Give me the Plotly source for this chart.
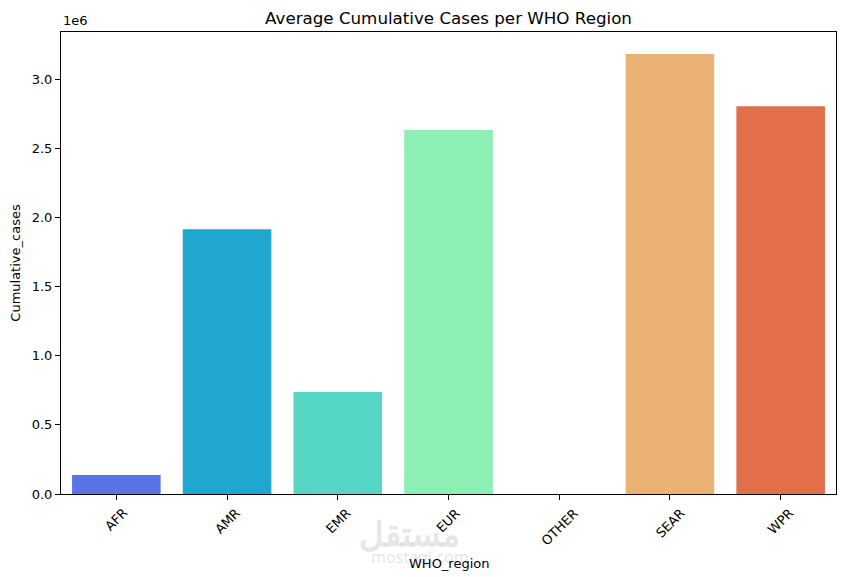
import plotly.graph_objects as go

regions = ["AFR", "AMR", "EMR", "EUR", "OTHER", "SEAR", "WPR"]
avg_cases = [137000, 1915000, 738000, 2634000, 0, 3184000, 2806000]
bar_colors = ["#5A73E5", "#20A7CF", "#55D6C5", "#8EEFB5", "#C6DCA6", "#EBB275", "#E26E4A"]
y_ticks = [0, 500000, 1000000, 1500000, 2000000, 2500000, 3000000]
y_tick_text = ["0.0", "0.5", "1.0", "1.5", "2.0", "2.5", "3.0"]

font_family = "DejaVu Sans"
PLOT_H = 577 - 32 - 83

fig = go.Figure()
fig.add_trace(go.Bar(
    x=list(range(len(regions))),
    y=avg_cases,
    width=0.8,
    marker=dict(color=bar_colors, line=dict(width=0)),
    hoverinfo="skip",
))

ymax = max(avg_cases) * 1.05

fig.update_layout(
    width=846, height=577,
    margin=dict(l=61, r=10, t=32, b=83),
    paper_bgcolor="white", plot_bgcolor="white",
    showlegend=False,
    font=dict(family=font_family, size=13, color="black"),
    title=dict(text="Average Cumulative Cases per WHO Region",
               x=(61 + 836) / 2 / 846, xanchor="center",
               y=1 - 18 / 577, yanchor="middle",
               font=dict(size=16.7, color="black", family=font_family)),
    xaxis=dict(
        range=[-0.5, len(regions) - 0.5],
        tickmode="array", tickvals=list(range(len(regions))), ticktext=regions,
        showticklabels=False,
        showline=True, mirror=True, linecolor="black", linewidth=1,
        ticks="outside", ticklen=5, tickcolor="black", tickwidth=1,
        showgrid=False, zeroline=False,
    ),
    yaxis=dict(
        range=[0, ymax],
        tickmode="array", tickvals=y_ticks, ticktext=y_tick_text,
        showline=True, mirror=True, linecolor="black", linewidth=1,
        ticks="outside", ticklen=5, tickcolor="black", tickwidth=1,
        showgrid=False, zeroline=False,
        tickfont=dict(size=13, family=font_family),
        title=dict(text="Cumulative_cases", font=dict(size=13, family=font_family), standoff=8),
    ),
)

# rotated, centre-aligned category labels (matplotlib style)
for i, name in enumerate(regions):
    fig.add_annotation(text=name, x=i, xref="x", y=0, yref="paper",
                       xanchor="center", yanchor="top", yshift=-9,
                       textangle=-45, showarrow=False,
                       font=dict(size=13, family=font_family, color="black"))

# watermark (drawn before the axis title so it sits behind)
fig.add_annotation(text="<b>مستقل</b>", xref="paper", yref="paper",
                   x=(409 - 61) / 775, y=-(533 - 494) / PLOT_H, xanchor="center", yanchor="middle",
                   showarrow=False, font=dict(size=34, family="Noto Sans", color="rgba(205,205,205,0.5)"))
fig.add_annotation(text="mostaql.com", xref="paper", yref="paper",
                   x=(420 - 61) / 775, y=-(557 - 494) / PLOT_H, xanchor="center", yanchor="middle",
                   showarrow=False, font=dict(size=16, family="Noto Sans", color="rgba(205,205,205,0.5)"))

fig.add_annotation(text="WHO_region", xref="paper", yref="paper",
                   x=0.5, y=-(563 - 494) / PLOT_H, xanchor="center", yanchor="middle",
                   showarrow=False, font=dict(size=13, family=font_family, color="black"))

fig.add_annotation(text="1e6", xref="paper", yref="paper", x=0, y=1,
                   xanchor="left", yanchor="bottom", yshift=2, showarrow=False,
                   font=dict(size=13, family=font_family, color="black"))

fig.write_html("out.html")
